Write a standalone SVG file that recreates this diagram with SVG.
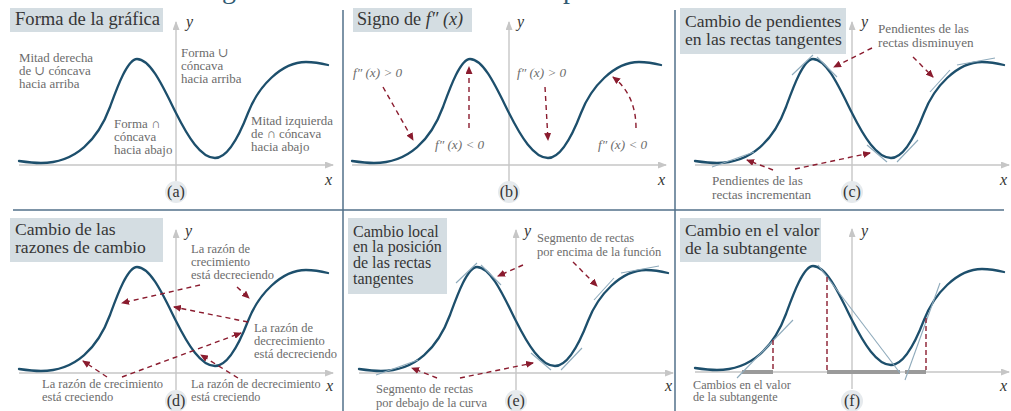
<svg xmlns="http://www.w3.org/2000/svg" width="1011" height="411" viewBox="0 0 1011 411">
<defs>
<style>
.t{font-family:"Liberation Serif","DejaVu Serif",serif;font-size:17.6px;fill:#363636}
.a{font-family:"Liberation Serif","DejaVu Serif",serif;font-size:12.5px;fill:#6c6c6c}
.ai{font-style:italic;font-size:13.2px}
.a13{font-size:12.9px}
.ac{font-size:13.2px}
.af{font-size:12.2px}
.box{fill:#d4dde2}
.axis{stroke:#c6c6c6;stroke-width:1.4;fill:none}
.curve{stroke:#1d4f6c;stroke-width:2.3;fill:none;stroke-linecap:round}
.tan{stroke:#8eaabb;stroke-width:1.1;fill:none}
.arr{stroke:#8a1b2e;stroke-width:1.4;stroke-dasharray:5 4;fill:none;marker-end:url(#ah)}
.vd{stroke:#8a1b2e;stroke-width:1.4;stroke-dasharray:5 3;fill:none}
.sub{stroke:#9a9a9a;stroke-width:4}
.div{stroke:#52718a;stroke-width:1.5}
.lab{font-family:"Liberation Serif","DejaVu Serif",serif;font-size:16px;fill:#333;text-anchor:middle}
.lc{fill:#e6eaed}
.ax{font-family:"Liberation Serif","DejaVu Serif",serif;font-size:16px;font-style:italic;fill:#333}
.top{font-family:"Liberation Serif","DejaVu Serif",serif;font-size:28px;fill:#2f5b73}
</style>
<marker id="ah" markerUnits="userSpaceOnUse" markerWidth="8" markerHeight="7" refX="7" refY="3.5" orient="auto"><path d="M0,0 L8,3.5 L0,7 z" fill="#8a1b2e"/></marker>
<marker id="axh" markerUnits="userSpaceOnUse" markerWidth="9" markerHeight="7" refX="8" refY="3.5" orient="auto"><path d="M0,0 L9,3.5 L0,7 z" fill="#c6c6c6"/></marker>
<path id="crv" class="curve" d="M-157,-4 C-150,-3 -143,-2 -135,-2 C-100,-2 -78,-25.6 -66,-58 C-60,-74.2 -49,-106 -39,-106 C-25,-106 -12,-76 0,-52 C12,-28 25,-7 39,-7 C52,-7 63,-28.6 72,-52 C82,-78 105,-103 130,-103 C138,-103 146,-101.5 152,-100"/>
<g id="axes">
<line class="axis" x1="0" y1="17" x2="0" y2="-143" marker-end="url(#axh)"/>
<line class="axis" x1="-157" y1="0" x2="157" y2="0" marker-end="url(#axh)"/>
</g>
<g id="tans">
<line class="tan" x1="-140" y1="2" x2="-98" y2="-13"/>
<line class="tan" x1="-60" y1="-90" x2="-39" y2="-110"/>
<line class="tan" x1="-35" y1="-108" x2="-15" y2="-88"/>
<line class="tan" x1="15" y1="-20" x2="35" y2="-3"/>
<line class="tan" x1="45" y1="-3" x2="66" y2="-25"/>
<line class="tan" x1="78" y1="-73" x2="98" y2="-95"/>
<line class="tan" x1="105" y1="-100" x2="143" y2="-107"/>
</g>
</defs>

<g id="header">
<text class="top" x="222" y="-2">g</text>
<text class="top" x="563" y="-2">p</text>
</g>

<g id="dividers">
<line class="div" x1="343" y1="10" x2="343" y2="411"/>
<line class="div" x1="675" y1="10" x2="675" y2="411"/>
<line class="div" x1="13" y1="210" x2="1004" y2="210"/>
</g>

<g id="panel-a">
<rect class="box" x="10" y="8" width="153" height="24"/>
<text class="t" x="15" y="25" style="font-size:18.6px">Forma de la gráfica</text>
<use href="#axes" x="176" y="165"/>
<use href="#crv" x="176" y="165"/>
<text class="ax" x="186" y="27">y</text>
<text class="ax" x="325" y="185">x</text>
<circle class="lc" cx="176" cy="192" r="11"/>
<text class="lab" x="176" y="197">(a)</text>
<text class="a a13" x="19" y="62">Mitad derecha</text>
<text class="a a13" x="19" y="75">de ∪ cóncava</text>
<text class="a a13" x="19" y="88">hacia arriba</text>
<text class="a a13" x="181" y="57">Forma ∪</text>
<text class="a a13" x="181" y="70">cóncava</text>
<text class="a a13" x="181" y="83">hacia arriba</text>
<text class="a a13" x="114" y="128">Forma ∩</text>
<text class="a a13" x="114" y="141">cóncava</text>
<text class="a a13" x="114" y="154">hacia abajo</text>
<text class="a a13" x="251" y="125">Mitad izquierda</text>
<text class="a a13" x="251" y="138">de ∩ cóncava</text>
<text class="a a13" x="251" y="151">hacia abajo</text>
</g>

<g id="panel-b">
<rect class="box" x="353" y="8" width="119" height="24"/>
<text class="t" x="357" y="25" style="font-size:18.2px">Signo de <tspan font-style="italic">f″ (x)</tspan></text>
<use href="#axes" x="509" y="165"/>
<use href="#crv" x="509" y="165"/>
<text class="ax" x="517" y="27">y</text>
<text class="ax" x="658" y="185">x</text>
<circle class="lc" cx="509" cy="192" r="11"/>
<text class="lab" x="509" y="197">(b)</text>
<text class="a ai" x="353" y="77">f″ (x) &gt; 0</text>
<text class="a ai" x="435" y="149">f″ (x) &lt; 0</text>
<text class="a ai" x="517" y="77">f″ (x) &gt; 0</text>
<text class="a ai" x="598" y="149">f″ (x) &lt; 0</text>
</g>

<g id="panel-c">
<rect class="box" x="680" y="8" width="166" height="46"/>
<text class="t" x="685" y="27">Cambio de pendientes</text>
<text class="t" x="685" y="45">en las rectas tangentes</text>
<use href="#axes" x="852" y="165"/>
<use href="#crv" x="852" y="165"/>
<use href="#tans" x="852" y="165"/>
<text class="ax" x="861" y="27">y</text>
<text class="ax" x="1000" y="185">x</text>
<circle class="lc" cx="852" cy="192" r="11"/>
<text class="lab" x="852" y="197">(c)</text>
<text class="a ac" x="878" y="33">Pendientes de las</text>
<text class="a ac" x="878" y="46.5">rectas disminuyen</text>
<text class="a ac" x="712" y="185">Pendientes de las</text>
<text class="a ac" x="712" y="198.5">rectas incrementan</text>
</g>

<g id="panel-d">
<rect class="box" x="10" y="218" width="153" height="44"/>
<text class="t" x="15" y="234.5">Cambio de las</text>
<text class="t" x="15" y="252.5">razones de cambio</text>
<use href="#axes" x="176" y="373"/>
<use href="#crv" x="176" y="373"/>
<text class="ax" x="185" y="236">y</text>
<text class="ax" x="326" y="391">x</text>
<circle class="lc" cx="176" cy="401" r="11"/>
<text class="lab" x="176" y="406">(d)</text>
<text class="a" x="191" y="253">La razón de</text>
<text class="a" x="191" y="266">crecimiento</text>
<text class="a" x="191" y="278.5">está decreciendo</text>
<text class="a" x="254" y="332">La razón de</text>
<text class="a" x="254" y="345">decrecimiento</text>
<text class="a" x="254" y="358">está decreciendo</text>
<text class="a" x="42" y="388">La razón de crecimiento</text>
<text class="a" x="42" y="401">está creciendo</text>
<text class="a" x="191" y="388" style="font-size:12.2px">La razón de decrecimiento</text>
<text class="a" x="191" y="401" style="font-size:12.2px">está creciendo</text>
</g>

<g id="panel-e">
<rect class="box" x="348" y="218" width="99" height="76"/>
<text class="t" x="353" y="236.5" style="font-size:16px">Cambio local</text>
<text class="t" x="353" y="252.2" style="font-size:16px">en la posición</text>
<text class="t" x="353" y="267.9" style="font-size:16px">de las rectas</text>
<text class="t" x="353" y="283.6" style="font-size:16px">tangentes</text>
<use href="#axes" x="516" y="373"/>
<use href="#crv" x="516" y="373"/>
<use href="#tans" x="516" y="373"/>
<text class="ax" x="524" y="236">y</text>
<text class="ax" x="665" y="391">x</text>
<circle class="lc" cx="516" cy="401" r="11"/>
<text class="lab" x="516" y="406">(e)</text>
<text class="a" x="537" y="242">Segmento de rectas</text>
<text class="a" x="537" y="256">por encima de la función</text>
<text class="a" x="376" y="393">Segmento de rectas</text>
<text class="a" x="376" y="407">por debajo de la curva</text>
</g>

<g id="panel-f">
<rect class="box" x="680" y="218" width="141" height="44"/>
<text class="t" x="685" y="236">Cambio en el valor</text>
<text class="t" x="685" y="254">de la subtangente</text>
<use href="#axes" x="852" y="372"/>
<line class="sub" x1="742" y1="372" x2="773" y2="372"/>
<line class="sub" x1="827" y1="372" x2="900" y2="372"/>
<line class="sub" x1="905" y1="372" x2="926" y2="372"/>
<use href="#crv" x="852" y="372"/>
<line class="tan" x1="737" y1="378" x2="793" y2="320"/>
<line class="tan" x1="818" y1="265" x2="900" y2="373"/>
<line class="tan" x1="905" y1="380" x2="940" y2="283"/>
<line class="vd" x1="773" y1="340" x2="773" y2="370"/>
<line class="vd" x1="827" y1="277" x2="827" y2="370"/>
<line class="vd" x1="926" y1="318" x2="926" y2="370"/>
<text class="ax" x="861" y="236">y</text>
<text class="ax" x="1000" y="391">x</text>
<circle class="lc" cx="852" cy="401" r="11"/>
<text class="lab" x="852" y="406">(f)</text>
<text class="a af" x="693" y="388.5">Cambios en el valor</text>
<text class="a af" x="693" y="401">de la subtangente</text>
</g>

<g id="connectors">
<path class="arr" d="M383,87 L413,140"/>
<path class="arr" d="M469,128 L469,67"/>
<path class="arr" d="M545,87 L548,140"/>
<path class="arr" d="M636,128 Q636,95 613,77"/>
<path class="arr" d="M872,48 L834,67"/>
<path class="arr" d="M913,57 L933,77"/>
<path class="arr" d="M773,170 L747,160"/>
<path class="arr" d="M795,169 L870,153"/>
<path class="arr" d="M200,285 L122,303"/>
<path class="arr" d="M237,287 L249,298"/>
<path class="arr" d="M248,322 L174,307"/>
<path class="arr" d="M122,377 L241,333"/>
<path class="arr" d="M107,377 L83,361"/>
<path class="arr" d="M238,378 L201,355"/>
<path class="arr" d="M523,265 L498,276"/>
<path class="arr" d="M573,262 L597,286"/>
<path class="arr" d="M437,378 L412,368"/>
<path class="arr" d="M460,378 L533,363"/>
</g>
</svg>
